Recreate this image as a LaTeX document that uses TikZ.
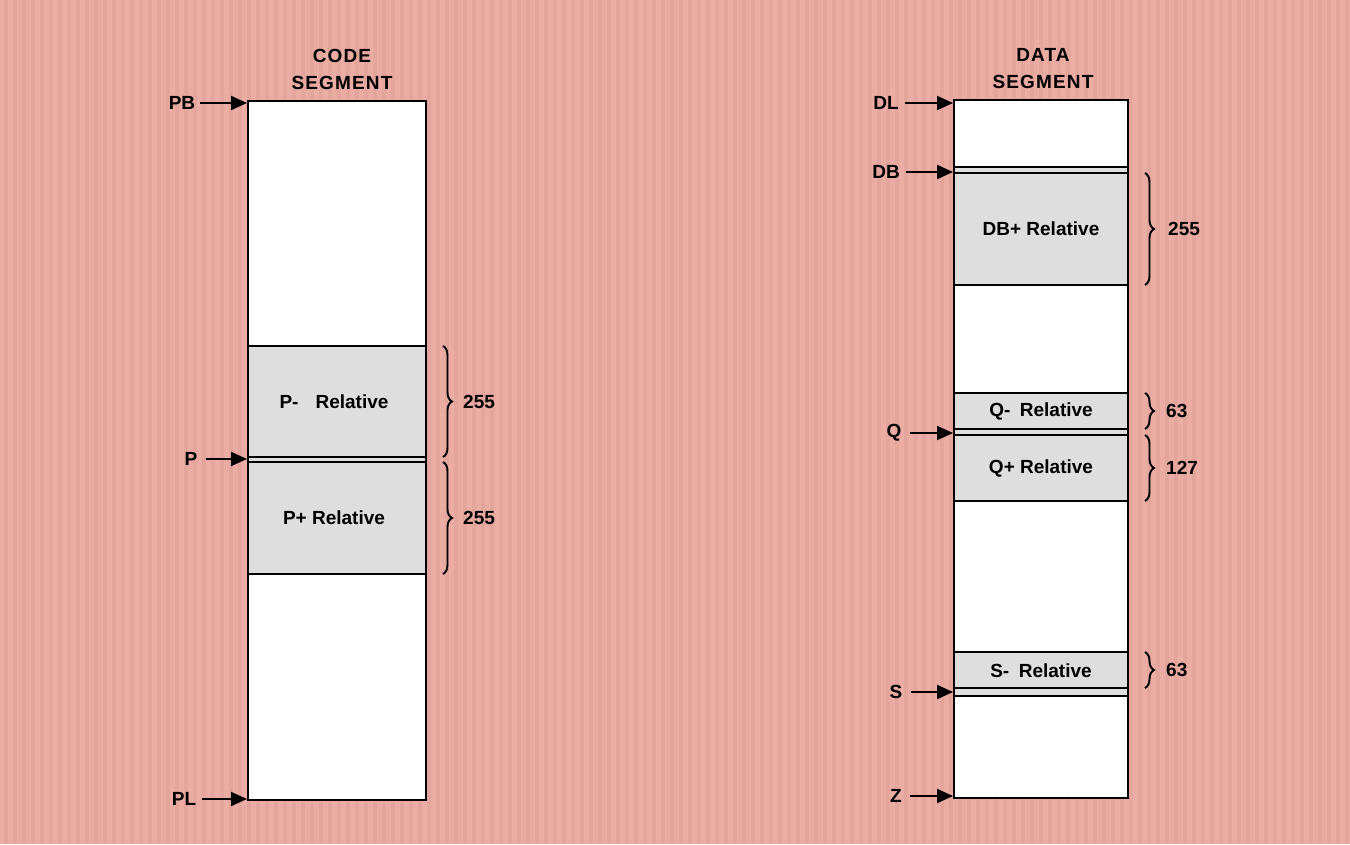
\documentclass[tikz,border=0pt]{standalone}
\usepackage{fontspec}
\setmainfont{Liberation Sans}
\newfontfamily\ttlfont[LetterSpace=6]{Liberation Sans}
\usetikzlibrary{decorations.pathreplacing,arrows.meta}
\definecolor{bgpink}{RGB}{234,172,163}
\definecolor{stripe}{RGB}{228,165,156}
\definecolor{greyfill}{RGB}{222,222,222}
\tikzset{
  txt/.style={font=\fontsize{19}{22}\selectfont\bfseries, inner sep=0pt},
  ttl/.style={font=\fontsize{19}{22}\selectfont\ttlfont\bfseries, inner sep=0pt, align=center},
  ptr/.style={line width=1.9pt, -{Triangle[length=16pt,width=14pt]}},
  seg/.style={line width=2.8pt},
  div/.style={line width=1.7pt},
  brc/.style={line width=1.9pt, decorate, decoration={brace, amplitude=9pt}},
}
\begin{document}
\begin{tikzpicture}[x=1pt,y=-1pt]
\fill[bgpink] (0,0) rectangle (1350,844);
\foreach \i in {0,...,149} {\fill[stripe] (\i*9+4,0) rectangle (\i*9+8,844);}
\useasboundingbox (0,0) rectangle (1350,844);

% ---- Code segment ----
\node[ttl] (codettl) at (342,69) {CODE\\[5pt]SEGMENT};
\fill[white] (248,101) rectangle (426,800);
\fill[greyfill] (248,346) rectangle (426,574);
\draw[div] (248,346) -- (426,346) (248,457) -- (426,457) (248,462) -- (426,462) (248,574) -- (426,574);
\draw[seg] (248,101) rectangle (426,800);
\node[txt] (pminus) at (334,402) {P-\hspace{0.9em}Relative};
\node[txt] (pplus) at (334,518) {P+ Relative};

\coordinate (pbT) at (247,103);
\coordinate (pT) at (247,459);
\coordinate (plT) at (247,799);
\node[txt] (PB) at (182,103) {PB};
\node[txt] (P) at (191,459) {P};
\node[txt] (PL) at (184,799) {PL};
\draw[ptr] (PB.east) ++(5,0) coordinate (pbS) (pbS) -- (pbT);
\draw[ptr] (P.east) ++(8,0) coordinate (pS) (pS) -- (pT);
\draw[ptr] (PL.east) ++(6,0) coordinate (plS) (plS) -- (plT);

\draw[brc] (443,346) -- (443,457);
\draw[brc] (443,462) -- (443,574);
\node[txt, anchor=west] (n255a) at (463,402) {255};
\node[txt, anchor=west] (n255b) at (463,518) {255};

% ---- Data segment ----
\node[ttl] (datattl) at (1043,69) {DATA\\[5pt]SEGMENT};
\fill[white] (954,100) rectangle (1128,798);
\fill[greyfill] (954,167) rectangle (1128,285);
\fill[greyfill] (954,393) rectangle (1128,501);
\fill[greyfill] (954,652) rectangle (1128,696);
\draw[div] (954,167) -- (1128,167) (954,173) -- (1128,173) (954,285) -- (1128,285);
\draw[div] (954,393) -- (1128,393) (954,429) -- (1128,429) (954,435) -- (1128,435) (954,501) -- (1128,501);
\draw[div] (954,652) -- (1128,652) (954,688) -- (1128,688) (954,696) -- (1128,696);
\draw[seg] (954,100) rectangle (1128,798);
\node[txt] (dbplus) at (1041,229) {DB+ Relative};
\node[txt] (qminus) at (1041,411) {Q-\hspace{0.5em}Relative};
\node[txt] (qplus) at (1041,468) {Q+ Relative};
\node[txt] (sminus) at (1041,671) {S-\hspace{0.5em}Relative};

\coordinate (dlT) at (953,103);
\coordinate (dbT) at (953,172);
\coordinate (qT) at (953,433);
\coordinate (sT) at (953,692);
\coordinate (zT) at (953,796);
\node[txt] (DL) at (886,103) {DL};
\node[txt] (DB) at (886,172) {DB};
\node[txt] (Q) at (894,433) {Q};
\node[txt] (S) at (896,692) {S};
\node[txt] (Z) at (896,796) {Z};
\draw[ptr] (DL.east) ++(6,0) coordinate (dlS) (dlS) -- (dlT);
\draw[ptr] (DB.east) ++(6,0) coordinate (dbS) (dbS) -- (dbT);
\draw[ptr] (Q.east) ++(8,0) coordinate (qS) (qS) -- (qT);
\draw[ptr] (S.east) ++(8,0) coordinate (sS) (sS) -- (sT);
\draw[ptr] (Z.east) ++(8,0) coordinate (zS) (zS) -- (zT);

\draw[brc] (1145,173) -- (1145,285);
\draw[brc] (1145,393) -- (1145,429);
\draw[brc] (1145,435) -- (1145,501);
\draw[brc] (1145,652) -- (1145,688);
\node[txt, anchor=west] (n255c) at (1168,229) {255};
\node[txt, anchor=west] (n63a) at (1166,411) {63};
\node[txt, anchor=west] (n127) at (1166,468) {127};
\node[txt, anchor=west] (n63b) at (1166,670) {63};
\end{tikzpicture}
\end{document}
